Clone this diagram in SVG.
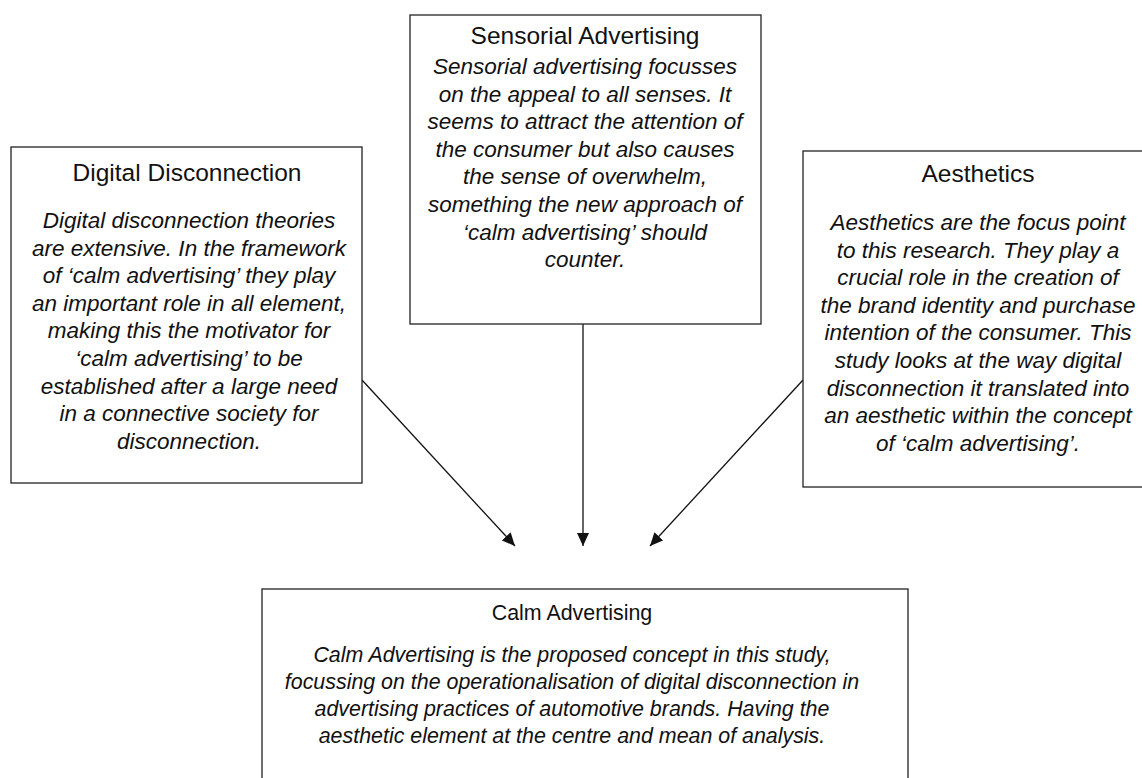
<svg xmlns="http://www.w3.org/2000/svg" width="1142" height="778" viewBox="0 0 1142 778">
<style>
.box{fill:#fff;stroke:#222;stroke-width:1.3}
.t{font-family:"Liberation Sans",Arial,sans-serif;font-size:24.5px;fill:#111;text-anchor:middle}
.b{font-family:"Liberation Sans",Arial,sans-serif;font-size:22.5px;font-style:italic;fill:#111;text-anchor:middle}
.ct{font-family:"Liberation Sans",Arial,sans-serif;font-size:21.4px;fill:#111;text-anchor:middle}
.cb{font-family:"Liberation Sans",Arial,sans-serif;font-size:21.4px;font-style:italic;fill:#111;text-anchor:middle}
.c{stroke:#111;stroke-width:1.3;fill:none;marker-end:url(#ah)}
</style>
<defs>
<marker id="ah" markerUnits="userSpaceOnUse" markerWidth="14" markerHeight="12" refX="13" refY="6" orient="auto">
<path d="M0,0 L13,6 L0,12 z" fill="#111"/>
</marker>
</defs>
<rect width="1142" height="778" fill="#fff"/>
<g id="connectors">
<line class="c" x1="362" y1="380" x2="515" y2="546"/>
<line class="c" x1="583" y1="324" x2="583" y2="546"/>
<line class="c" x1="803" y1="380" x2="650" y2="546"/>
</g>
<g id="digital-disconnection">
<rect class="box" x="11" y="147" width="351" height="336"/>
<text class="t" x="187" y="181">Digital Disconnection</text>
<text class="b" x="189" y="228">Digital disconnection theories</text>
<text class="b" x="189" y="255.6">are extensive. In the framework</text>
<text class="b" x="189" y="283.2">of ‘calm advertising’ they play</text>
<text class="b" x="189" y="310.8">an important role in all element,</text>
<text class="b" x="189" y="338.4">making this the motivator for</text>
<text class="b" x="189" y="366">‘calm advertising’ to be</text>
<text class="b" x="189" y="393.6">established after a large need</text>
<text class="b" x="189" y="421.2">in a connective society for</text>
<text class="b" x="189" y="448.8">disconnection.</text>
</g>
<g id="sensorial-advertising">
<rect class="box" x="410" y="15" width="351" height="309"/>
<text class="t" x="585" y="44">Sensorial Advertising</text>
<text class="b" x="585" y="74">Sensorial advertising focusses</text>
<text class="b" x="585" y="101.6">on the appeal to all senses. It</text>
<text class="b" x="585" y="129.2">seems to attract the attention of</text>
<text class="b" x="585" y="156.8">the consumer but also causes</text>
<text class="b" x="585" y="184.4">the sense of overwhelm,</text>
<text class="b" x="585" y="212">something the new approach of</text>
<text class="b" x="585" y="239.6">‘calm advertising’ should</text>
<text class="b" x="585" y="267.2">counter.</text>
</g>
<g id="aesthetics">
<rect class="box" x="803" y="151" width="351" height="336"/>
<text class="t" x="978" y="182">Aesthetics</text>
<text class="b" x="978" y="230">Aesthetics are the focus point</text>
<text class="b" x="978" y="257.6">to this research. They play a</text>
<text class="b" x="978" y="285.2">crucial role in the creation of</text>
<text class="b" x="978" y="312.8">the brand identity and purchase</text>
<text class="b" x="978" y="340.4">intention of the consumer. This</text>
<text class="b" x="978" y="368">study looks at the way digital</text>
<text class="b" x="978" y="395.6">disconnection it translated into</text>
<text class="b" x="978" y="423.2">an aesthetic within the concept</text>
<text class="b" x="978" y="450.8">of ‘calm advertising’.</text>
</g>
<g id="calm-advertising">
<rect class="box" x="262" y="589" width="646" height="220"/>
<text class="ct" x="572" y="620">Calm Advertising</text>
<text class="cb" x="572" y="662">Calm Advertising is the proposed concept in this study,</text>
<text class="cb" x="572" y="689">focussing on the operationalisation of digital disconnection in</text>
<text class="cb" x="572" y="716">advertising practices of automotive brands. Having the</text>
<text class="cb" x="572" y="743">aesthetic element at the centre and mean of analysis.</text>
</g>
</svg>
